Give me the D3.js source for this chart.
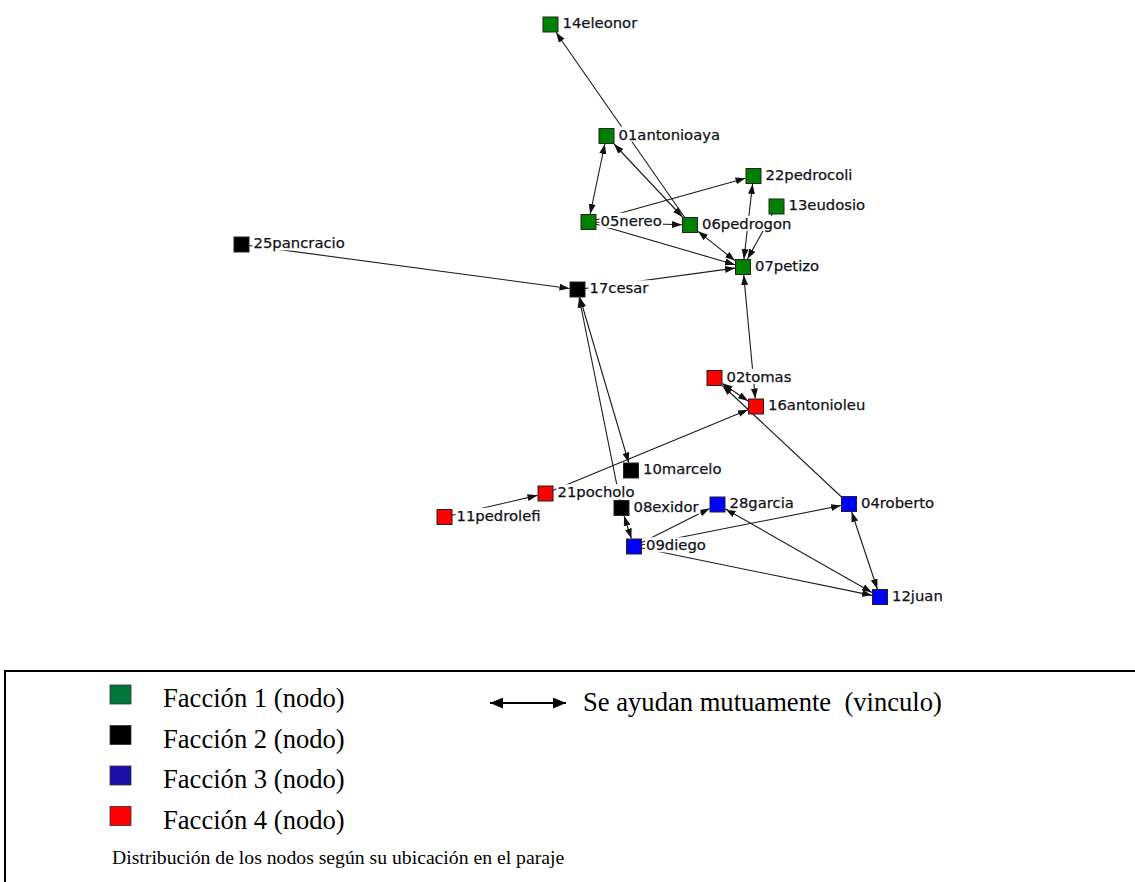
<!DOCTYPE html>
<html>
<head>
<meta charset="utf-8">
<script src="https://cdn.jsdelivr.net/npm/d3@7"></script>
<style>
    body { margin: 0; background: #fff; }
    #chart-area { width: 1135px; height: 882px; }
</style>
</head>
<body>
<div id="chart-area"></div>
<script>

// nodes (layout positions)
let nodeNames = ["14eleonor", "01antonioaya", "22pedrocoli", "13eudosio", "05nereo", "06pedrogon", "07petizo",
    "25pancracio", "17cesar", "02tomas", "16antonioleu", "10marcelo", "21pocholo", "11pedrolefi",
    "08exidor", "09diego", "28garcia", "04roberto", "12juan"];
let nodeFaction = [1, 1, 1, 1, 1, 1, 1, 2, 2, 4, 4, 2, 4, 4, 2, 3, 3, 3, 3];
let nodeX = [550.5, 606.5, 753.5, 776.5, 588.5, 690, 743, 241.5, 577.5, 714.5, 756, 631, 545.5, 444.5, 621.5, 634, 717.5, 849, 880];
let nodeY = [24.5, 136, 176, 206.5, 222, 225, 267, 244.5, 289.5, 378, 406.5, 470.5, 493.5, 517, 508, 546.5, 504.5, 504, 597];

// links: from -> to, mutual = arrows on both ends
let linkFrom = ["06pedrogon", "01antonioaya", "01antonioaya", "05nereo", "05nereo", "05nereo", "06pedrogon", "07petizo",
    "13eudosio", "17cesar", "25pancracio", "16antonioleu", "02tomas", "04roberto", "21pocholo", "11pedrolefi",
    "17cesar", "08exidor", "08exidor", "09diego", "09diego", "09diego", "28garcia", "04roberto"];
let linkTo = ["14eleonor", "05nereo", "06pedrogon", "22pedrocoli", "06pedrogon", "07petizo", "07petizo", "22pedrocoli",
    "07petizo", "07petizo", "17cesar", "07petizo", "16antonioleu", "02tomas", "16antonioleu", "21pocholo",
    "10marcelo", "17cesar", "09diego", "28garcia", "04roberto", "12juan", "12juan", "12juan"];
let linkMutual = [false, true, true, false, false, false, true, true,
    false, false, false, true, true, false, false, false,
    true, false, true, false, false, false, true, true];

// legend
let legendLabels = ["Facción 1 (nodo)", "Facción 2 (nodo)", "Facción 3 (nodo)", "Facción 4 (nodo)"];
let legendLinkLabel = "Se ayudan mutuamente  (vinculo)";
let captionText = "Distribución de los nodos según su ubicación en el paraje";


class networkChart {

    constructor(parentElement) {
        this.parentElement = parentElement;
        this.nodes = nodeNames.map((n, i) => ({name: n, faction: nodeFaction[i], x: nodeX[i], y: nodeY[i]}));
        this.links = linkFrom.map((f, i) => ({source: f, target: linkTo[i], mutual: linkMutual[i]}));

        this.initVis();
    }

    initVis() {
        let vis = this;

        vis.width = 1135;
        vis.height = 882;

        vis.svg = d3.select("#" + vis.parentElement).append("svg")
            .attr("width", vis.width)
            .attr("height", vis.height);

        // layout coords are already in page units
        vis.x = d3.scaleLinear().domain([0, vis.width]).range([0, vis.width]);
        vis.y = d3.scaleLinear().domain([0, vis.height]).range([0, vis.height]);

        vis.nodeColor = d3.scaleOrdinal().domain([1, 2, 3, 4]).range(["#008000", "#000000", "#0000ff", "#ff0000"]);
        vis.legendColor = d3.scaleOrdinal().domain([1, 2, 3, 4]).range(["#00773a", "#000000", "#1a10a8", "#ff0000"]);

        let defs = vis.svg.append("defs");
        defs.append("marker")
            .attr("id", "arrow")
            .attr("viewBox", "0 -4 10 8")
            .attr("refX", 10)
            .attr("refY", 0)
            .attr("markerUnits", "userSpaceOnUse")
            .attr("markerWidth", 10)
            .attr("markerHeight", 8)
            .attr("orient", "auto-start-reverse")
            .append("path")
            .attr("d", "M0,-3.5L10,0L0,3.5Z")
            .attr("fill", "#111");

        defs.append("marker")
            .attr("id", "arrow-big")
            .attr("viewBox", "0 -5.5 13 11")
            .attr("refX", 13)
            .attr("refY", 0)
            .attr("markerUnits", "userSpaceOnUse")
            .attr("markerWidth", 13)
            .attr("markerHeight", 11)
            .attr("orient", "auto-start-reverse")
            .append("path")
            .attr("d", "M0,-5.5L13,0L0,5.5Z")
            .attr("fill", "#000");

        this.wrangleData();
    }

    wrangleData() {
        let vis = this;

        vis.byName = {};
        vis.nodes.forEach(d => vis.byName[d.name] = d);

        // trim each link to the square borders
        let half = 8;
        vis.links.forEach(l => {
            let s = vis.byName[l.source], t = vis.byName[l.target];
            let x1 = vis.x(s.x), y1 = vis.y(s.y), x2 = vis.x(t.x), y2 = vis.y(t.y);
            let dx = x2 - x1, dy = y2 - y1;
            let len = Math.sqrt(dx * dx + dy * dy);
            let k = Math.min(half / Math.abs(dx || 1e-6), half / Math.abs(dy || 1e-6)) * len;
            let ux = dx / len, uy = dy / len;
            l.x1 = l.mutual ? x1 + ux * k : x1;
            l.y1 = l.mutual ? y1 + uy * k : y1;
            l.x2 = x2 - ux * k;
            l.y2 = y2 - uy * k;
        });

        this.updateVis();
    }

    updateVis() {
        let vis = this;

        // links
        vis.svg.append("g").selectAll("line")
            .data(vis.links)
            .enter().append("line")
            .attr("x1", d => d.x1)
            .attr("y1", d => d.y1)
            .attr("x2", d => d.x2)
            .attr("y2", d => d.y2)
            .attr("stroke", "#1a1a1a")
            .attr("stroke-width", 1.1)
            .attr("marker-end", "url(#arrow)")
            .attr("marker-start", d => d.mutual ? "url(#arrow)" : null);

        // labels with white background (hides lines behind them like netdraw)
        let lab = vis.svg.append("g").selectAll("g")
            .data(vis.nodes)
            .enter().append("g");

        lab.append("rect").attr("fill", "#fff");

        lab.append("text")
            .attr("x", d => vis.x(d.x) + 12)
            .attr("y", d => vis.y(d.y) + 3.8)
            .attr("font-family", "DejaVu Sans, Verdana, sans-serif")
            .attr("font-size", 14.8)
            .attr("fill", "#111118")
            .attr("stroke", "#111118")
            .attr("stroke-width", 0.25)
            .text(d => d.name);

        lab.each(function () {
            let g = d3.select(this);
            let bb = g.select("text").node().getBBox();
            g.select("rect")
                .attr("x", bb.x - 1)
                .attr("y", bb.y + 1)
                .attr("width", bb.width + 2)
                .attr("height", bb.height - 2);
        });

        // nodes
        vis.svg.append("g").selectAll("rect")
            .data(vis.nodes)
            .enter().append("rect")
            .attr("x", d => vis.x(d.x) - 7.5)
            .attr("y", d => vis.y(d.y) - 7.5)
            .attr("width", 15)
            .attr("height", 15)
            .attr("fill", d => vis.nodeColor(d.faction))
            .attr("stroke", "#222")
            .attr("stroke-width", 1);

        // legend box (runs off the right and bottom edges)
        let leg = vis.svg.append("g");
        leg.append("rect")
            .attr("x", 5)
            .attr("y", 671)
            .attr("width", 1300)
            .attr("height", 400)
            .attr("fill", "none")
            .attr("stroke", "#000")
            .attr("stroke-width", 2);

        let items = leg.selectAll(".item")
            .data(legendLabels)
            .enter().append("g")
            .attr("class", "item")
            .attr("transform", (d, i) => `translate(110, ${685 + i * 40.5})`);

        items.append("rect")
            .attr("width", 21)
            .attr("height", 19)
            .attr("fill", (d, i) => vis.legendColor(i + 1))
            .attr("stroke", "#333")
            .attr("stroke-width", 0.8);

        items.append("text")
            .attr("x", 53)
            .attr("y", 22)
            .attr("font-family", "Liberation Serif, Times New Roman, serif")
            .attr("font-size", 26.6)
            .attr("fill", "#000")
            .text(d => d);

        leg.append("line")
            .attr("x1", 490)
            .attr("y1", 703)
            .attr("x2", 566)
            .attr("y2", 703)
            .attr("stroke", "#000")
            .attr("stroke-width", 2)
            .attr("marker-start", "url(#arrow-big)")
            .attr("marker-end", "url(#arrow-big)");

        leg.append("text")
            .attr("x", 583)
            .attr("y", 711)
            .attr("font-family", "Liberation Serif, Times New Roman, serif")
            .attr("font-size", 26.6)
            .attr("fill", "#000")
            .attr("xml:space", "preserve")
            .style("white-space", "pre")
            .text(legendLinkLabel);

        leg.append("text")
            .attr("x", 112)
            .attr("y", 864)
            .attr("font-family", "Liberation Serif, Times New Roman, serif")
            .attr("font-size", 19.7)
            .attr("fill", "#000")
            .text(captionText);
    }
}

new networkChart("chart-area");
</script>
</body>
</html>
